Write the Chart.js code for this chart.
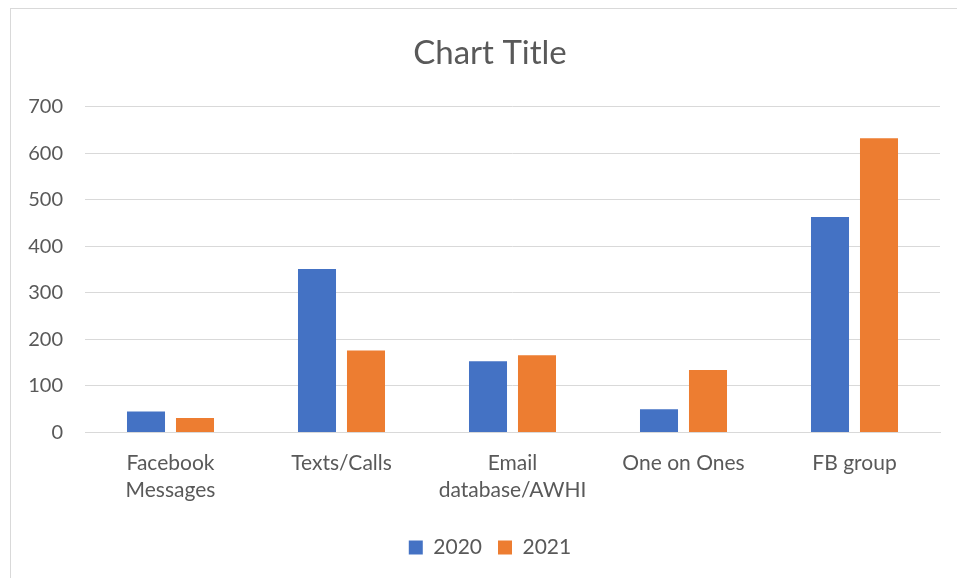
<!DOCTYPE html>
<html>
<head>
<meta charset="utf-8">
<script src="https://cdn.jsdelivr.net/npm/chart.js@4/dist/chart.umd.min.js"></script>
<style>
  html, body { margin: 0; padding: 0; background: #fff; }
  #wrap { width: 957px; height: 578px; position: relative; }
</style>
</head>
<body>
<div id="wrap"><canvas id="c" width="957" height="578"></canvas></div>
<script>
const categories = [['Facebook', 'Messages'], 'Texts/Calls', ['Email', 'database/AWHI'], 'One on Ones', 'FB group'];
const series2020 = [45, 351, 153, 50, 463];
const series2021 = [31, 176, 166, 134, 632];
const seriesNames = ['2020', '2021'];
const yTicks = [0, 100, 200, 300, 400, 500, 600, 700];

const FONT = 'Lato, "Open Sans", sans-serif';
const TXT = '#595959';

const borderPlugin = {
  id: 'frame',
  afterLayout(chart) {
    // the original chart frame extends past the right edge; centre title and legend on it
    const shift = 15;
    if (chart.titleBlock) { chart.titleBlock.left += shift; chart.titleBlock.right += shift; }
    if (chart.legend) { chart.legend.left += shift; chart.legend.right += shift; }
  },
  beforeDraw(chart) {
    const ctx = chart.ctx;
    ctx.save();
    ctx.fillStyle = '#fff';
    ctx.fillRect(0, 0, chart.width, chart.height);
    ctx.strokeStyle = '#d9d9d9';
    ctx.lineWidth = 1;
    ctx.strokeRect(10.5, 8.5, 960, 600);
    ctx.restore();
  }
};

new Chart(document.getElementById('c'), {
  type: 'bar',
  data: {
    labels: categories,
    datasets: [
      { label: seriesNames[0], data: series2020, backgroundColor: '#4472C4' },
      { label: seriesNames[1], data: series2021, backgroundColor: '#ED7D31' }
    ]
  },
  options: {
    responsive: false,
    animation: false,
    devicePixelRatio: 1,
    layout: { padding: { left: 10, right: 17, top: 0, bottom: 10 } },
    datasets: { bar: { categoryPercentage: 0.573, barPercentage: 0.776 } },
    plugins: {
      title: {
        display: true,
        text: 'Chart Title',
        color: TXT,
        font: { family: FONT, size: 33, weight: 'normal' },
        padding: { top: 34, bottom: 33 }
      },
      legend: {
        position: 'bottom',
        labels: {
          color: TXT,
          font: { family: FONT, size: 21 },
          boxWidth: 14,
          boxHeight: 14,
          padding: 16
        }
      },
      tooltip: { enabled: false }
    },
    scales: {
      x: {
        grid: { display: false, drawTicks: false },
        border: { display: true, color: '#d9d9d9', width: 1 },
        ticks: {
          color: TXT,
          font: { family: FONT, size: 21, lineHeight: 1.3 },
          padding: 17,
          maxRotation: 0,
          autoSkip: false
        }
      },
      y: {
        min: 0,
        max: 700,
        afterBuildTicks(scale) { scale.ticks = yTicks.map(v => ({ value: v })); },
        afterFit(scale) { scale.width = 75; },
        grid: { color: '#d9d9d9', lineWidth: 1, drawTicks: false },
        border: { display: false },
        ticks: {
          color: TXT,
          font: { family: FONT, size: 20 },
          padding: 22,
          stepSize: 100
        }
      }
    }
  },
  plugins: [borderPlugin]
});
</script>
</body>
</html>
